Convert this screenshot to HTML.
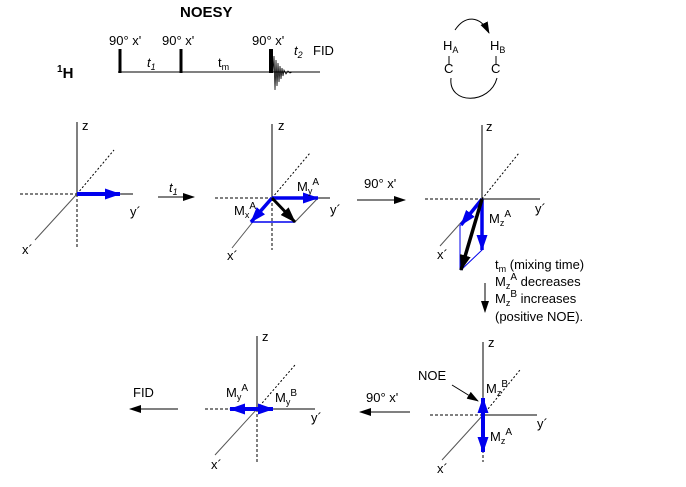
<!DOCTYPE html>
<html><head><meta charset="utf-8"><style>
body{margin:0;background:#fff}
svg text{font-family:"Liberation Sans",sans-serif;font-size:13px;fill:#000}
</style></head><body>
<svg width="686" height="482" viewBox="0 0 686 482" xmlns="http://www.w3.org/2000/svg">
<defs>
<marker id="bk" markerWidth="12" markerHeight="8" refX="11" refY="4" orient="auto" markerUnits="userSpaceOnUse"><path d="M0,0 L12,4 L0,8 z" fill="#000"/></marker>
<marker id="bl" markerWidth="16" markerHeight="11" refX="15" refY="5.5" orient="auto" markerUnits="userSpaceOnUse"><path d="M0,0 L16,5.5 L0,11 z" fill="#0000ee"/></marker>
<marker id="bb" markerWidth="16" markerHeight="11" refX="15" refY="5.5" orient="auto" markerUnits="userSpaceOnUse"><path d="M0,0 L16,5.5 L0,11 z" fill="#000"/></marker>
</defs>
<g stroke="#000" fill="none">
<line x1="118" y1="72" x2="320" y2="72"/>
<line x1="120" y1="49" x2="120" y2="73" stroke-width="3"/>
<line x1="181" y1="49" x2="181" y2="73" stroke-width="3"/>
<line x1="271" y1="49" x2="271" y2="73" stroke-width="4"/>
<path d="M273,72 L274,56 L275,90 L276,60 L277,86 L278,63 L279,82 L280,66 L281,79 L282,68 L283,76 L284,70 L286,74 L288,71 L290,73 L292,72" stroke-width="0.8"/>
<line x1="449" y1="56" x2="449" y2="64"/>
<line x1="496" y1="56" x2="496" y2="64"/>
<path d="M455,30 C465,15 480,15 489,33" marker-end="url(#bk)"/>
<path d="M451,78 C448,105 490,105 497,78"/>
<line x1="77" y1="122" x2="77" y2="194"/>
<line x1="77" y1="194" x2="77" y2="248" stroke-dasharray="3,2"/>
<line x1="20" y1="194" x2="77" y2="194" stroke-dasharray="3,2"/>
<line x1="77" y1="194" x2="133" y2="194"/>
<line x1="77" y1="194" x2="114" y2="150" stroke-dasharray="2,2"/>
<line x1="77" y1="194" x2="35" y2="240" stroke="#555"/>
<line x1="77" y1="194" x2="120" y2="194" stroke="#0000ee" stroke-width="4" marker-end="url(#bl)"/>
<line x1="158" y1="197" x2="194" y2="197" marker-end="url(#bk)"/>
<line x1="272" y1="124" x2="272" y2="198"/>
<line x1="272" y1="198" x2="272" y2="250" stroke-dasharray="3,2"/>
<line x1="215" y1="198" x2="272" y2="198" stroke-dasharray="3,2"/>
<line x1="272" y1="198" x2="330" y2="198"/>
<line x1="272" y1="198" x2="310" y2="153" stroke-dasharray="2,2"/>
<line x1="272" y1="198" x2="232" y2="248" stroke="#555"/>
<line x1="251" y1="222" x2="295" y2="222" stroke="#0000ee" stroke-width="1.5"/>
<line x1="295" y1="222" x2="318" y2="198" stroke="#555"/>
<line x1="272" y1="198" x2="318" y2="198" stroke="#0000ee" stroke-width="3.5" marker-end="url(#bl)"/>
<line x1="272" y1="198" x2="251" y2="222" stroke="#0000ee" stroke-width="3.5" marker-end="url(#bl)"/>
<line x1="272" y1="198" x2="295" y2="222" stroke-width="3" marker-end="url(#bb)"/>
<line x1="357" y1="200" x2="405" y2="200" marker-end="url(#bk)"/>
<line x1="482" y1="125" x2="482" y2="199"/>
<line x1="425" y1="199" x2="482" y2="199" stroke-dasharray="3,2"/>
<line x1="482" y1="199" x2="540" y2="199"/>
<line x1="482" y1="199" x2="519" y2="153" stroke-dasharray="2,2"/>
<line x1="482" y1="199" x2="440" y2="246" stroke="#555"/>
<line x1="460" y1="225" x2="460" y2="270" stroke="#0000ee"/>
<line x1="482" y1="250" x2="461" y2="270" stroke="#0000ee"/>
<line x1="482" y1="199" x2="461" y2="225" stroke="#0000ee" stroke-width="3.5" marker-end="url(#bl)"/>
<line x1="482" y1="199" x2="482" y2="250" stroke="#0000ee" stroke-width="3.5" marker-end="url(#bl)"/>
<line x1="482" y1="199" x2="461" y2="270" stroke-width="3.5" marker-end="url(#bb)"/>
<line x1="485" y1="283" x2="485" y2="312" marker-end="url(#bk)"/>
<line x1="483" y1="342" x2="483" y2="415"/>
<line x1="483" y1="415" x2="483" y2="462" stroke-dasharray="3,2"/>
<line x1="430" y1="415" x2="483" y2="415" stroke-dasharray="3,2"/>
<line x1="483" y1="415" x2="537" y2="415"/>
<line x1="483" y1="415" x2="520" y2="370" stroke-dasharray="2,2"/>
<line x1="483" y1="415" x2="442" y2="460" stroke="#555"/>
<line x1="483" y1="415" x2="483" y2="398" stroke="#0000ee" stroke-width="4" marker-end="url(#bl)"/>
<line x1="483" y1="415" x2="483" y2="452" stroke="#0000ee" stroke-width="4" marker-end="url(#bl)"/>
<line x1="452" y1="385" x2="478" y2="401" marker-end="url(#bk)"/>
<line x1="410" y1="412" x2="360" y2="412" marker-end="url(#bk)"/>
<line x1="257" y1="336" x2="257" y2="409"/>
<line x1="257" y1="409" x2="257" y2="462" stroke-dasharray="3,2"/>
<line x1="205" y1="409" x2="257" y2="409" stroke-dasharray="3,2"/>
<line x1="257" y1="409" x2="315" y2="409"/>
<line x1="257" y1="409" x2="295" y2="365" stroke-dasharray="2,2"/>
<line x1="257" y1="409" x2="215" y2="455" stroke="#555"/>
<line x1="257" y1="409" x2="230" y2="409" stroke="#0000ee" stroke-width="4" marker-end="url(#bl)"/>
<line x1="257" y1="409" x2="273" y2="409" stroke="#0000ee" stroke-width="4" marker-end="url(#bl)"/>
<line x1="178" y1="409" x2="130" y2="409" marker-end="url(#bk)"/>
</g>
<text x="180" y="17" font-weight="bold" style="font-size:15px">NOESY</text>
<text x="57" y="78" font-weight="bold" style="font-size:15px"><tspan style="font-size:10px" dy="-6">1</tspan><tspan dy="6">H</tspan></text>
<text x="109" y="45">90° x'</text><text x="162" y="45">90° x'</text><text x="252" y="45">90° x'</text>
<text x="147" y="67" font-style="italic">t<tspan style="font-size:9px" dy="3">1</tspan></text>
<text x="218" y="67">t<tspan style="font-size:9px" dy="3">m</tspan></text>
<text x="294" y="55" font-style="italic">t<tspan style="font-size:9px" dy="3">2</tspan></text>
<text x="313" y="55">FID</text>
<text x="443" y="50">H<tspan style="font-size:9px" dy="3">A</tspan></text>
<text x="490" y="50">H<tspan style="font-size:9px" dy="3">B</tspan></text>
<text x="444" y="73">C</text><text x="491" y="73">C</text>
<text x="82" y="130">z</text><text x="130" y="216">y´</text><text x="22" y="254">x´</text>
<text x="169" y="192" font-style="italic">t<tspan style="font-size:9px" dy="3">1</tspan></text>
<text x="278" y="130">z</text><text x="330" y="214">y´</text><text x="227" y="260">x´</text>
<text x="297" y="191">M<tspan style="font-size:9px" dy="3">y</tspan><tspan style="font-size:10px" dy="-9">A</tspan></text>
<text x="234" y="215">M<tspan style="font-size:9px" dy="3">x</tspan><tspan style="font-size:10px" dy="-9">A</tspan></text>
<text x="364" y="188">90° x'</text>
<text x="486" y="131">z</text><text x="535" y="213">y´</text><text x="437" y="259">x´</text>
<text x="489" y="223">M<tspan style="font-size:9px" dy="3">z</tspan><tspan style="font-size:10px" dy="-9">A</tspan></text>
<text x="495" y="269">t<tspan style="font-size:9px" dy="3">m</tspan><tspan dy="-3">  (mixing time)</tspan></text>
<text x="495" y="286">M<tspan style="font-size:9px" dy="3">z</tspan><tspan style="font-size:10px" dy="-9">A</tspan><tspan dy="6"> decreases</tspan></text>
<text x="495" y="303">M<tspan style="font-size:9px" dy="3">z</tspan><tspan style="font-size:10px" dy="-9">B</tspan><tspan dy="6"> increases</tspan></text>
<text x="495" y="321">(positive NOE).</text>
<text x="488" y="347">z</text><text x="537" y="428">y´</text><text x="437" y="473">x´</text>
<text x="418" y="380">NOE</text>
<text x="486" y="393">M<tspan style="font-size:9px" dy="3">z</tspan><tspan style="font-size:10px" dy="-9">B</tspan></text>
<text x="490" y="441">M<tspan style="font-size:9px" dy="3">z</tspan><tspan style="font-size:10px" dy="-9">A</tspan></text>
<text x="366" y="402">90° x'</text>
<text x="262" y="341">z</text><text x="311" y="422">y´</text><text x="211" y="469">x´</text>
<text x="226" y="397">M<tspan style="font-size:9px" dy="3">y</tspan><tspan style="font-size:10px" dy="-9">A</tspan></text>
<text x="275" y="402">M<tspan style="font-size:9px" dy="3">y</tspan><tspan style="font-size:10px" dy="-9">B</tspan></text>
<text x="133" y="397">FID</text>
</svg>
</body></html>
